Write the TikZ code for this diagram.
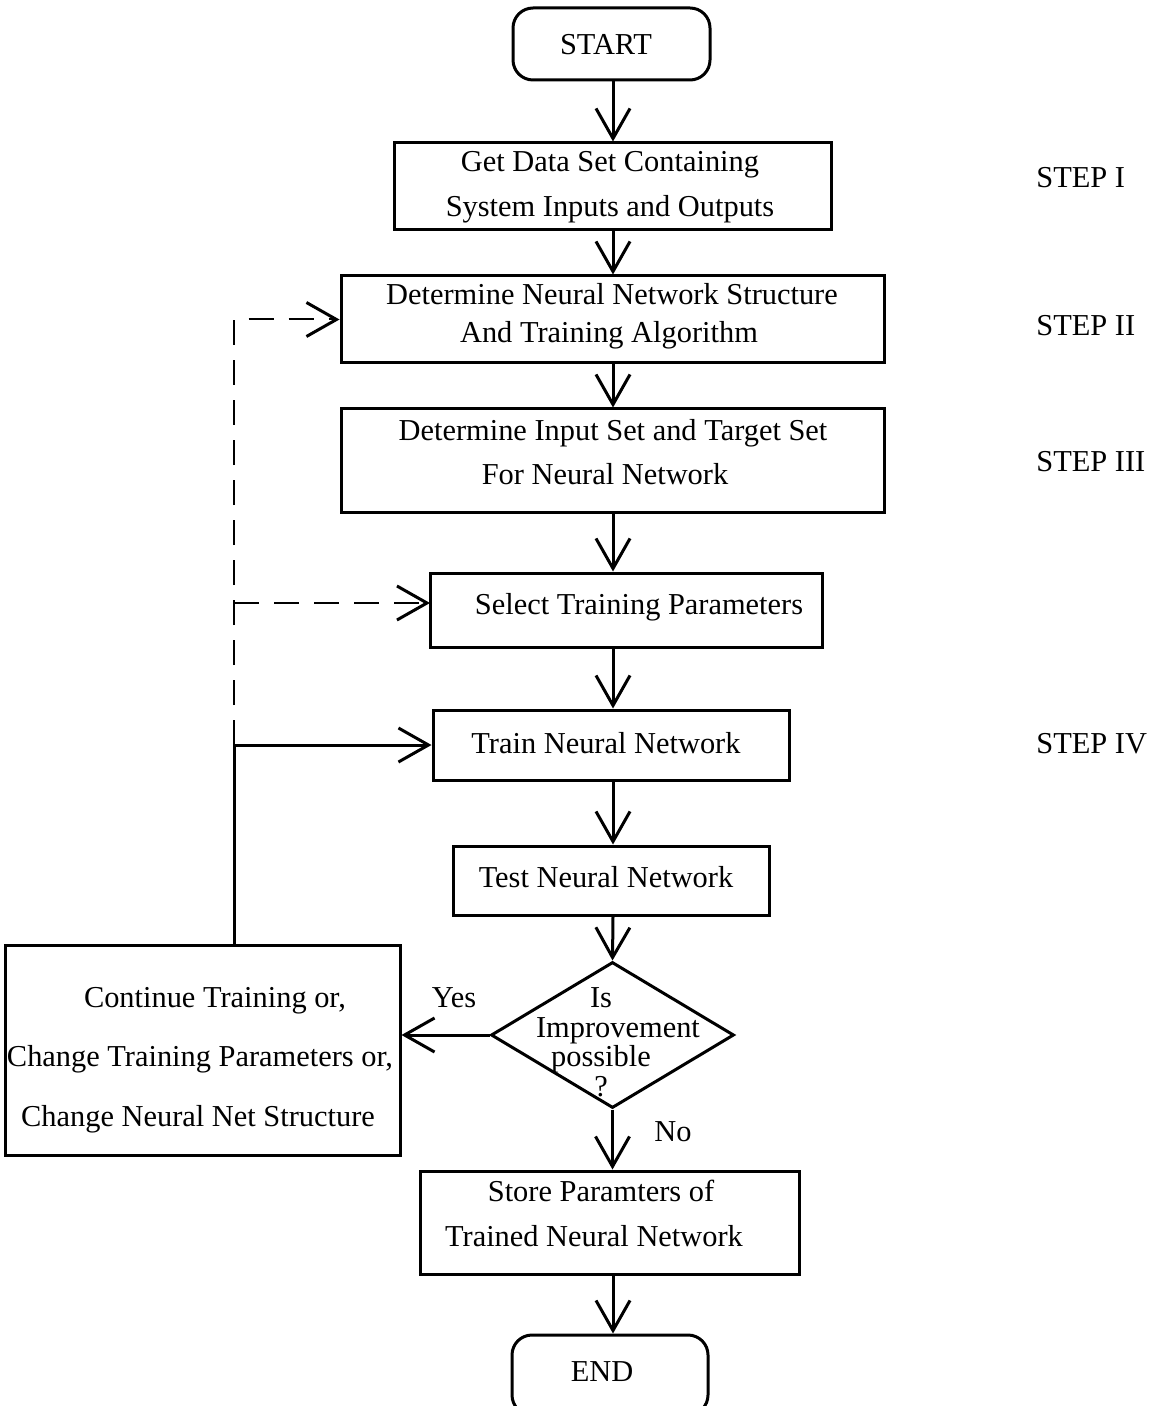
\documentclass[tikz,border=0pt]{standalone}
\usepackage{fontspec}
\setmainfont{Liberation Serif}
\usetikzlibrary{arrows.meta,shapes.geometric}
\begin{document}
\begin{tikzpicture}[x=0.5pt,y=-0.5pt,
  font=\fontsize{15.2}{18}\selectfont,
  box/.style={draw,line width=1.5pt,inner sep=0pt},
  term/.style={box,rounded corners=10pt},
  txt/.style={inner sep=0pt,anchor=base,yshift=-1.5pt},
  arr/.style={line width=1.5pt,-{Straight Barb[length=15pt,width=17pt,line width=1.5pt]}},
  darr/.style={line width=1pt,dash pattern=on 12.5pt off 7.5pt,-{Straight Barb[length=15pt,width=17pt,line width=1.5pt]}}]
\useasboundingbox (0,0) rectangle (1154,1406);
% boxes (positions in pixel units)
\node[term,minimum width=98.5pt,minimum height=36pt] (start) at (611.5,44) {};
\node[box,minimum width=218.5pt,minimum height=43.5pt] (b1) at (612.5,186.5) {};
\node[box,minimum width=271.5pt,minimum height=43.5pt] (b2) at (612.5,319.5) {};
\node[box,minimum width=271.5pt,minimum height=51.5pt] (b3) at (612.5,460.5) {};
\node[box,minimum width=196pt,minimum height=37pt] (sel) at (626,610) {};
\node[box,minimum width=178pt,minimum height=35pt] (train) at (611,745) {};
\node[box,minimum width=158pt,minimum height=34.5pt] (test) at (611,880.5) {};
\node[draw,line width=1.5pt,diamond,inner sep=0pt,minimum width=121.5pt,minimum height=73pt] (dec) at (612.5,1035) {};
\node[box,minimum width=197.5pt,minimum height=105pt] (lb) at (202.5,1050) {};
\node[box,minimum width=189.5pt,minimum height=51.5pt] (store) at (609.5,1222.5) {};
\node[term,minimum width=98pt,minimum height=40pt] (end) at (610,1375) {};
% texts
\node[txt] (tstart) at (606,52) {START};
\node[txt] (t1a) at (610,169) {Get Data Set Containing};
\node[txt] (t1b) at (610,214) {System Inputs and Outputs};
\node[txt] (t2a) at (612,302) {Determine Neural Network Structure};
\node[txt] (t2b) at (609,340) {And Training Algorithm};
\node[txt] (t3a) at (613,437) {Determine Input Set and Target Set};
\node[txt] (t3b) at (605,481) {For Neural Network};
\node[txt] (tsel) at (639,611) {Select Training Parameters};
\node[txt] (ttrain) at (606,750) {Train Neural Network};
\node[txt] (ttest) at (606,884) {Test Neural Network};
\node[txt] (td1) at (601,1004) {Is};
\node[txt] (td2) at (618,1034) {Improvement};
\node[txt] (td3) at (601,1063) {possible};
\node[txt] (td4) at (601,1093) {?};
\node[txt] (tl1) at (215,1004) {Continue Training or,};
\node[txt] (tl2) at (200,1063) {Change Training Parameters or,};
\node[txt] (tl3) at (198,1123) {Change Neural Net Structure};
\node[txt] (ts1) at (601,1198) {Store Paramters of};
\node[txt] (ts2) at (594,1243) {Trained Neural Network};
\node[txt] (tend) at (602,1378) {END};
\node[txt] (yes) at (454,1004) {Yes};
\node[txt] (no) at (673,1138) {No};
\node[txt,anchor=base west] (s1) at (1036,185) {STEP I};
\node[txt,anchor=base west] (s2) at (1036,333) {STEP II};
\node[txt,anchor=base west] (s3) at (1036,468) {STEP III};
\node[txt,anchor=base west] (s4) at (1036,750) {STEP IV};
% main flow
\coordinate (sp) at (613,0);
\draw[arr] (start.south -| sp) -- (b1.north -| sp);
\draw[arr] (b1.south -| sp) -- (b2.north -| sp);
\draw[arr] (b2.south -| sp) -- (b3.north -| sp);
\draw[arr] (b3.south -| sp) -- (sel.north -| sp);
\draw[arr] (sel.south -| sp) -- (train.north -| sp);
\draw[arr] (train.south -| sp) -- (test.north -| sp);
\draw[arr] (test.south -| sp) -- (dec.north);
\draw[arr] (dec.south) -- (store.north -| dec.south);
\draw[arr] (store.south -| sp) -- (end.north -| sp);
\draw[arr] (dec.west) -- (lb.east |- dec.west);
% feedback loops
\coordinate (jt) at (234,745);
\draw[arr] (lb.north -| jt) -- (jt) -- (train.west);
\draw[darr] (jt) |- (b2.west);
\coordinate (sw) at (430,603);
\draw[darr] (jt |- sw) -- (sw);
\end{tikzpicture}
\end{document}
